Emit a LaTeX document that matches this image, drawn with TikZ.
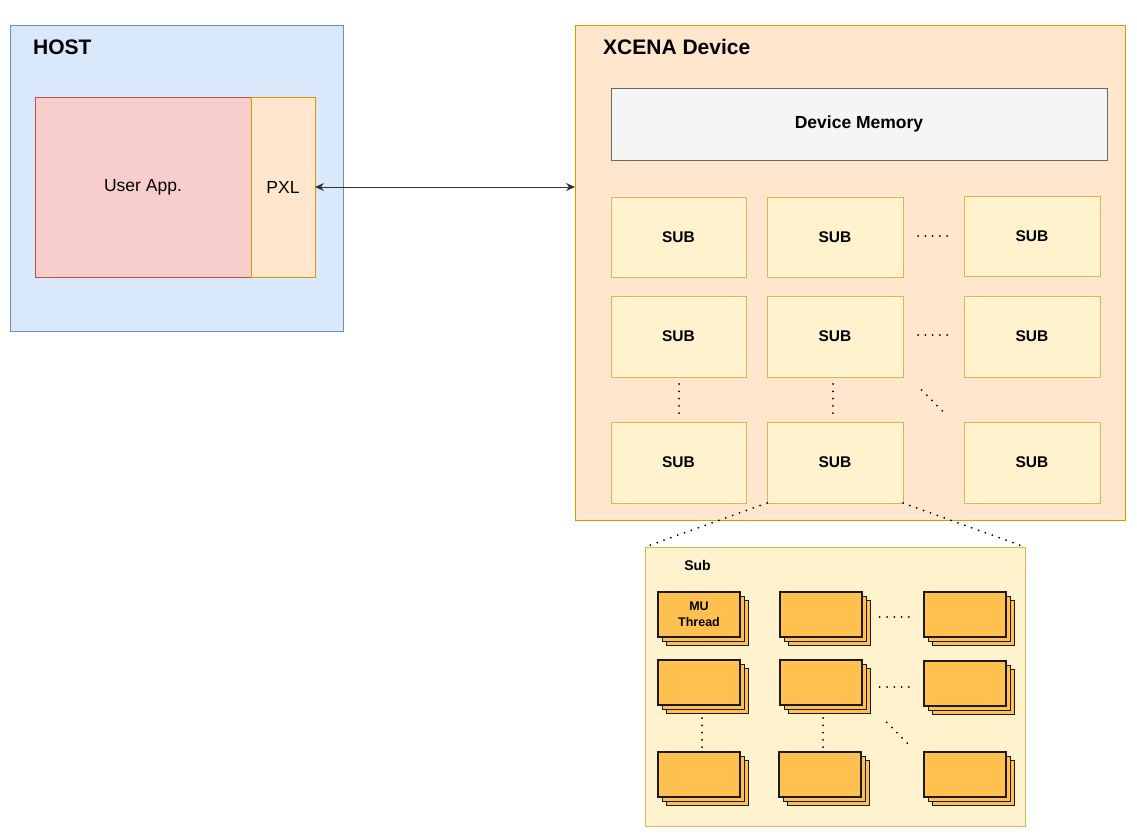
\documentclass[tikz,border=0pt]{standalone}
\usepackage{fontspec}
\setmainfont{Liberation Sans}
\usetikzlibrary{arrows.meta}
\definecolor{hostfill}{HTML}{DAE8FC}
\definecolor{hostdraw}{HTML}{6C8EBF}
\definecolor{appfill}{HTML}{F8CECC}
\definecolor{appdraw}{HTML}{B85450}
\definecolor{orfill}{HTML}{FFE6CC}
\definecolor{ordraw}{HTML}{D79B00}
\definecolor{memfill}{HTML}{F5F5F5}
\definecolor{memdraw}{HTML}{666666}
\definecolor{subfill}{HTML}{FFF2CC}
\definecolor{subdraw}{HTML}{D6B656}
\definecolor{mufill}{HTML}{FFC050}
\definecolor{mudraw}{HTML}{1A1A1A}
\newcommand{\mustack}[4]{%
  \draw[mulayer] (#2+8.6,#3+8.6) rectangle ++(82,45);
  \draw[mulayer] (#2+4.3,#3+4.3) rectangle ++(82,45);
  \node[mubox] (#1) at (#2,#3) {#4};
}
\begin{document}
\begin{tikzpicture}[x=1pt,y=-1pt,
  box/.style={rectangle, draw, line width=1pt, inner sep=0pt, outer sep=0pt, anchor=north west, align=center},
  title/.style={anchor=west, font=\fontsize{21}{25}\selectfont\bfseries, inner sep=0pt},
  subcell/.style={box, fill=subfill, draw=subdraw, font=\fontsize{15.5}{18}\selectfont\bfseries},
  mulayer/.style={draw=mudraw, fill=mufill, line width=1.1pt},
  mubox/.style={box, fill=mufill, draw=mudraw, line width=1.1pt, minimum width=82pt, minimum height=45pt, font=\fontsize{12.5}{16}\selectfont\bfseries},
  dotline/.style={line width=2pt, dash pattern=on 0pt off 7.3pt, line cap=round, black},
  link/.style={draw=black!80, line width=1pt, {Stealth[length=9pt,width=8pt]}-{Stealth[length=9pt,width=8pt]}}
]
\useasboundingbox (0,0) rectangle (1137,838);

% HOST
\node[box, fill=hostfill, draw=hostdraw, minimum width=333pt, minimum height=306pt] (host) at (10,25) {};
\node[title] (hostlbl) at (33,47) {HOST};
\node[box, fill=appfill, draw=appdraw, minimum width=216pt, minimum height=180pt, font=\fontsize{17.5}{20}\selectfont] (app) at (35,97) {User App.};
\node[box, fill=orfill, draw=ordraw, minimum width=64pt, minimum height=180pt, font=\fontsize{17.5}{20}\selectfont] (pxl) at (251,97) {PXL};

% Device
\node[box, fill=orfill, draw=ordraw, minimum width=550pt, minimum height=495pt] (dev) at (575,25) {};
\node[title] (devlbl) at (603,47) {XCENA Device};
\node[box, fill=memfill, draw=memdraw, minimum width=496pt, minimum height=72pt, font=\fontsize{17.5}{20}\selectfont\bfseries] (mem) at (611,88) {Device Memory};

\node[subcell, minimum width=135pt, minimum height=80pt] (s11) at (611,197) {SUB};
\node[subcell, minimum width=136pt, minimum height=80pt] (s12) at (767,197) {SUB};
\node[subcell, minimum width=136pt, minimum height=80pt] (s13) at (964,196) {SUB};
\node[subcell, minimum width=135pt, minimum height=81pt] (s21) at (611,296) {SUB};
\node[subcell, minimum width=136pt, minimum height=81pt] (s22) at (767,296) {SUB};
\node[subcell, minimum width=136pt, minimum height=81pt] (s23) at (964,296) {SUB};
\node[subcell, minimum width=135pt, minimum height=81pt] (s31) at (611,422) {SUB};
\node[subcell, minimum width=136pt, minimum height=81pt] (s32) at (767,422) {SUB};
\node[subcell, minimum width=136pt, minimum height=81pt] (s33) at (964,422) {SUB};

\draw[dotline] (918,236) -- (947.3,236);
\draw[dotline] (918,335) -- (947.3,335);
\draw[dotline] (679,384) -- (679,413.3);
\draw[dotline] (833,384) -- (833,413.3);
\draw[dotline] (921.7,390) -- (942.5,411.2);

% Arrow
\draw[link] (pxl.east) -- (pxl.east -| dev.west);

% Sub detail
\node[box, fill=subfill, draw=subdraw, minimum width=380pt, minimum height=279pt] (subbox) at (645,547) {};
\node[anchor=center, inner sep=0pt, font=\fontsize{14}{16}\selectfont\bfseries] (sublbl) at (697.5,565) {Sub};
\draw[dotline] (s32.south west) -- (subbox.north west);
\draw[dotline] (s32.south east) -- (subbox.north east);

\mustack{m11}{658}{592}{MU\\Thread}
\mustack{m12}{780}{592}{}
\mustack{m13}{924}{592}{}
\mustack{m21}{658}{660}{}
\mustack{m22}{780}{660}{}
\mustack{m23}{924}{661}{}
\mustack{m31}{658}{752}{}
\mustack{m32}{779}{752}{}
\mustack{m33}{924}{752}{}

\draw[dotline] (879.7,617) -- (909.1,617);
\draw[dotline] (879.7,687) -- (909.1,687);
\draw[dotline] (702,718) -- (702,747.3);
\draw[dotline] (823,718) -- (823,747.3);
\draw[dotline] (886.7,722.3) -- (907.3,743.2);
\end{tikzpicture}
\end{document}
